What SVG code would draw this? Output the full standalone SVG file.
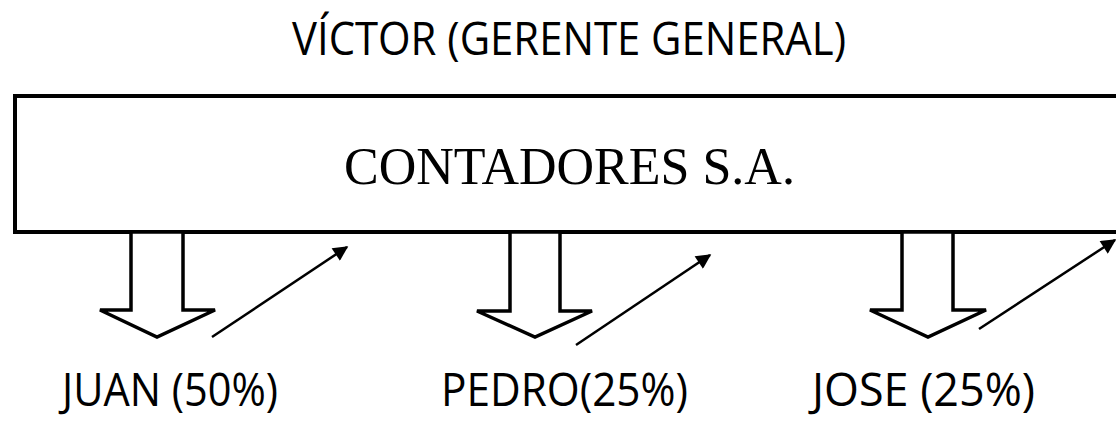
<svg xmlns="http://www.w3.org/2000/svg" width="1116" height="421" viewBox="0 0 1116 421">
<style>
.lbl{font-family:"Open Sans","Noto Sans","Liberation Sans",sans-serif;font-size:46px;font-weight:500;fill:#000}
.box{fill:#fff;stroke:#000;stroke-width:4}
.blk{fill:#fff;stroke:#000;stroke-width:3.5;stroke-linejoin:miter}
.diag{stroke:#000;stroke-width:2.5;fill:none}
.main{font-family:"Liberation Serif","Times New Roman",serif;font-size:52px;fill:#000}
</style>
<defs>
<marker id="ah" viewBox="0 0 10 10" refX="9" refY="5" markerWidth="7" markerHeight="6" markerUnits="strokeWidth" orient="auto">
<path d="M0,0 L10,5 L0,10 z" fill="#000"/>
</marker>
</defs>
<rect width="1116" height="421" fill="#fff"/>
<g id="victor">
<text class="lbl" x="292" y="55" textLength="554" lengthAdjust="spacingAndGlyphs">VÍCTOR (GERENTE GENERAL)</text>
</g>
<g id="contadores">
<rect class="box" x="15" y="96" width="1110" height="136"/>
<text class="main" x="344" y="184">CONTADORES S.A.</text>
</g>
<g id="connectors">
<polygon class="blk" points="131,232 131,310 100,310 157,337 215,310 183,310 183,232"/>
<polygon class="blk" points="510,232 510,311 477,311 535,337 592,311 560,311 560,232"/>
<polygon class="blk" points="902,232 902,310 870,310 928,337 986,310 953,310 953,232"/>
<line class="diag" x1="212" y1="337" x2="347" y2="247" marker-end="url(#ah)"/>
<line class="diag" x1="576" y1="345" x2="710" y2="255" marker-end="url(#ah)"/>
<line class="diag" x1="979" y1="329" x2="1115" y2="240" marker-end="url(#ah)"/>
</g>
<g id="juan">
<text class="lbl" x="62" y="406" textLength="216" lengthAdjust="spacingAndGlyphs">JUAN (50%)</text>
</g>
<g id="pedro">
<text class="lbl" x="441" y="406" textLength="247" lengthAdjust="spacingAndGlyphs">PEDRO(25%)</text>
</g>
<g id="jose">
<text class="lbl" x="812" y="406" textLength="223" lengthAdjust="spacingAndGlyphs">JOSE (25%)</text>
</g>
</svg>
